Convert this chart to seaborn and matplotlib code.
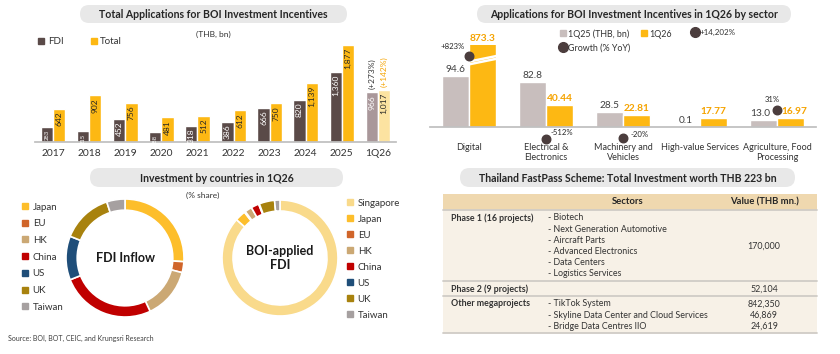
import numpy as np
import pandas as pd
import matplotlib
matplotlib.use("Agg")
import matplotlib.pyplot as plt
from matplotlib.patches import FancyBboxPatch, Rectangle
from matplotlib.lines import Line2D
import seaborn as sns

# ---------------- data ----------------
periods = ["2017", "2018", "2019", "2020", "2021", "2022", "2023", "2024", "2025", "1Q26"]
fdi = [283, 215, 452, 188, 318, 386, 666, 820, 1360, 966]
total = [642, 902, 756, 481, 512, 612, 750, 1139, 1877, 1017]
q26_growth = ["(+273%)", "(+142%)"]

sectors = ["Digital", "Electrical &\nElectronics", "Machinery and\nVehicles",
           "High-value Services", "Agriculture, Food\nProcessing"]
q125 = [94.6, 82.8, 28.5, 0.1, 13.0]
q126 = [873.3, 40.44, 22.81, 17.77, 16.97]
growth = [823, -512, -20, 14202, 31]
growth_labels = ["+823%", "-512%", "-20%", "+14,202%", "31%"]

countries = ["Japan", "EU", "HK", "China", "US", "UK", "Taiwan"]
fdi_share = [26, 3, 14, 26, 12, 14, 5]
boi_countries = ["Singapore"] + countries
boi_share = [86.5, 3.0, 0.3, 2.0, 2.2, 0.2, 4.3, 1.5]

table_header = ["Sectors", "Value (THB mn.)"]
phase1_label = "Phase 1 (16 projects)"
phase1_sectors = ["Biotech", "Next Generation Automotive", "Aircraft Parts",
                  "Advanced Electronics", "Data Centers", "Logistics Services"]
phase1_value = "170,000"
phase2_label = "Phase 2 (9 projects)"
phase2_value = "52,104"
mega_label = "Other megaprojects"
mega_items = ["TikTok System", "Skyline Data Center and Cloud Services", "Bridge Data Centres IIO"]
mega_values = ["842,350", "46,869", "24,619"]

# ---------------- style ----------------
DARK, YEL, LFDI, LTOT = "#5A4A48", "#FDB813", "#A9979A", "#FCE3A1"
GREY, ORG, DOT, TXT = "#C8BEBD", "#F5A300", "#4B3D3D", "#333333"
country_col = {"Singapore": "#F9DA8B", "Japan": "#FDBE2B", "EU": "#D0652A", "HK": "#CBA874",
               "China": "#C00000", "US": "#1F4E79", "UK": "#A8820E", "Taiwan": "#A6A0A0"}

sns.set_theme(style="white")
plt.rcParams["font.family"] = ["Lato", "DejaVu Sans"]

W, H = 840, 354
fig = plt.figure(figsize=(W / 100, H / 100), dpi=100)
fig.patch.set_facecolor("white")


def place(x0, y0, x1, y1):
    return fig.add_axes([x0 / W, 1 - y1 / H, (x1 - x0) / W, (y1 - y0) / H])


bg = fig.add_axes([0, 0, 1, 1])
bg.set_xlim(0, W); bg.set_ylim(H, 0); bg.axis("off")


def pill(x0, y0, x1, y1, text):
    bg.add_patch(FancyBboxPatch((x0, y0), x1 - x0, y1 - y0,
                                boxstyle=f"round,pad=0,rounding_size={(y1 - y0) / 2}",
                                fc="#E8E8E8", ec="none"))
    bg.text((x0 + x1) / 2, (y0 + y1) / 2 + 0.5, text, ha="center", va="center",
            fontsize=7.6, fontweight="bold", color="#262626")


pill(80, 5, 347, 23, "Total Applications for BOI Investment Incentives")
pill(477, 5, 791, 23, "Applications for BOI Investment Incentives in 1Q26 by sector")
pill(90, 168, 343, 187, "Investment by countries in 1Q26")
pill(460, 168, 795, 187, "Thailand FastPass Scheme: Total Investment worth THB 223 bn")
bg.text(213, 34, "(THB, bn)", ha="center", va="center", fontsize=6, color=TXT)
bg.text(203, 195, "(% share)", ha="center", va="center", fontsize=6, color=TXT)
bg.text(8, 338, "Source: BOI, BOT, CEIC, and Krungsri Research", ha="left", va="center",
        fontsize=5, color="#404040")

# ---------------- top-left: yearly applications ----------------
ax1 = place(35, 30, 396, 142)
df1 = pd.DataFrame({"period": periods * 2, "series": ["FDI"] * len(fdi) + ["Total"] * len(total),
                    "value": fdi + total})
sns.barplot(data=df1, x="period", y="value", hue="series", hue_order=["FDI", "Total"],
            order=periods, palette=[DARK, YEL], width=0.68, gap=0, saturation=1,
            legend=False, ax=ax1)
ax1.containers[0][-1].set_facecolor(LFDI)
ax1.containers[1][-1].set_facecolor(LTOT)
ax1.set_ylim(0, 2170)
ax1.set_xlim(-0.5, len(periods) - 0.5)
for cont, vals, col in zip(ax1.containers, [fdi, total], ["white", "#262626"]):
    for rect, v in zip(cont, vals):
        fs = 6 if v >= 300 else 4.2
        ax1.annotate(f"{v:,}", (rect.get_x() + rect.get_width() / 2, v), xytext=(0, -2),
                     textcoords="offset points", rotation=90, ha="center", va="top",
                     fontsize=fs, color=col)
for cont, lab, col in zip(ax1.containers, q26_growth, [TXT, ORG]):
    rect = cont[-1]
    ax1.annotate(lab, (rect.get_x() + rect.get_width() / 2, rect.get_height()), xytext=(0, 2),
                 textcoords="offset points", rotation=90, ha="center", va="bottom",
                 fontsize=6, color=col)
ax1.set_facecolor("none")
ax1.set_xlabel(""); ax1.set_ylabel(""); ax1.set_yticks([])
sns.despine(ax=ax1, left=True)
ax1.spines["bottom"].set_color("#BFBFBF")
ax1.tick_params(axis="x", length=0, pad=5, labelsize=7.4, labelcolor=TXT)
fig.legend([Line2D([], [], ls="", marker="s", color=DARK, markersize=4.5),
            Line2D([], [], ls="", marker="s", color=YEL, markersize=4.5)],
           ["FDI", "Total"], loc="upper left", bbox_to_anchor=(38 / W, 1 - 37 / H),
           ncol=2, frameon=False, fontsize=7, handlelength=0.7, handletextpad=0.3,
           columnspacing=2.8, borderpad=0, borderaxespad=0, labelcolor=TXT)

# ---------------- top-right: sectors ----------------
ax2 = place(430.5, 45, 815.5, 127.3)
df2 = pd.DataFrame({"sector": sectors * 2, "period": ["1Q25"] * 5 + ["1Q26"] * 5,
                    "value": q125 + q126})
sns.barplot(data=df2, x="sector", y="value", hue="period", hue_order=["1Q25", "1Q26"],
            order=sectors, palette=[GREY, YEL], width=0.714, gap=0, saturation=1,
            legend=False, ax=ax2)
top = 151
ax2.set_ylim(0, top)
ax2.set_xlim(-0.5, len(sectors) - 0.5)
# nudge value labels sideways where a growth dot sits between the two bars
nudge = {4: 2.5}
for rect, v, i in zip(ax2.containers[0], q125, range(len(q125))):
    ax2.annotate(f"{v:.1f}", (rect.get_x() + rect.get_width() / 2, v),
                 xytext=(-nudge.get(i, 0), 1.5), textcoords="offset points", ha="center",
                 va="bottom", fontsize=7.3, color="#404040", zorder=6)
for rect, v, i in zip(ax2.containers[1], q126, range(len(q126))):
    ax2.annotate(f"{v:g}", (rect.get_x() + rect.get_width() / 2, min(v, top)),
                 xytext=(nudge.get(i, 0), 1.5), textcoords="offset points", ha="center",
                 va="bottom", fontsize=7.3, color=ORG, fontweight="bold", zorder=6)
# axis-break marks on the off-scale bar
brk = ax2.containers[1][0]
bx = [brk.get_x(), brk.get_x() + brk.get_width()]
for y0 in (120.5, 115.5):
    ax2.plot(bx, [y0, y0 + 10.3], color="white", lw=1.8, zorder=4, solid_capstyle="butt")
# growth dots (on-chart ones), clipped to the visible band
on_chart = [i for i, g in enumerate(growth) if abs(g) < 1000]
gy = np.clip(np.array(growth, dtype=float), -21, 131)
ax2.scatter(on_chart, gy[on_chart], s=38, color=DOT, zorder=5, clip_on=False)
label_off = {0: (-11.5, 6.5), 1: (11.5, 4.5), 2: (12, 3), 4: (-3.5, 7.5)}
for i in on_chart:
    dx, dy = label_off[i]
    ax2.annotate(growth_labels[i], (i, gy[i]), xytext=(dx, dy), textcoords="offset points",
                 ha="center", va="center", fontsize=5.6, color="#262626", annotation_clip=False)
ax2.set_facecolor("none")
ax2.set_xlabel(""); ax2.set_ylabel(""); ax2.set_yticks([])
sns.despine(ax=ax2, left=True)
ax2.spines["bottom"].set_color("#BFBFBF")
ax2.set_xticks(range(len(sectors)))
ax2.set_xticklabels(sectors, linespacing=1.25)
ax2.tick_params(axis="x", length=0, pad=11, labelsize=6.5, labelcolor=TXT)
fig.legend([Line2D([], [], ls="", marker="s", color=GREY, markersize=4.5),
            Line2D([], [], ls="", marker="o", color=DOT, markersize=7),
            Line2D([], [], ls="", marker="s", color=YEL, markersize=4.5)],
           ["1Q25 (THB, bn)", "Growth (% YoY)", "1Q26"], loc="upper left",
           bbox_to_anchor=(559 / W, 1 - 29 / H), ncol=2, frameon=False, fontsize=6.4,
           handlelength=0.8, handletextpad=0.2, columnspacing=1.2, labelspacing=0.55,
           borderpad=0, borderaxespad=0, labelcolor=TXT)
off_chart = [i for i, g in enumerate(growth) if abs(g) >= 1000]
fig.legend([Line2D([], [], ls="", marker="o", color=DOT, markersize=7)] * len(off_chart),
           [growth_labels[i] for i in off_chart], loc="upper left",
           bbox_to_anchor=(692 / W, 1 - 29 / H), frameon=False, fontsize=5.8,
           handlelength=0.8, handletextpad=0.1, borderpad=0, borderaxespad=0, labelcolor=TXT)

# ---------------- donuts ----------------
def donut(ax, shares, names, label):
    ax.pie(shares, colors=[country_col[n] for n in names], startangle=90, counterclock=False,
           wedgeprops=dict(width=0.19, edgecolor="white", linewidth=1.2))
    ax.set_xlim(-1, 1); ax.set_ylim(-1, 1)
    ax.text(0, 0, label, ha="center", va="center", fontsize=9, fontweight="bold",
            color="#1A1A1A", linespacing=1.2)


ax3 = place(66, 199, 184, 317)
donut(ax3, fdi_share, countries, "FDI Inflow")
ax4 = place(222, 200, 338, 316)
donut(ax4, boi_share, boi_countries, "BOI-applied\nFDI")


def sq(n):
    return Line2D([], [], ls="", marker="s", color=country_col[n], markersize=4.5)


fig.legend([sq(n) for n in countries], countries, loc="upper left",
           bbox_to_anchor=(22 / W, 1 - 202.5 / H), frameon=False, fontsize=7,
           handlelength=0.7, handletextpad=0.4, labelspacing=0.79, borderpad=0,
           borderaxespad=0, labelcolor=TXT)
fig.legend([sq(n) for n in boi_countries], boi_countries, loc="upper left",
           bbox_to_anchor=(347 / W, 1 - 198.5 / H), frameon=False, fontsize=7,
           handlelength=0.7, handletextpad=0.4, labelspacing=0.72, borderpad=0,
           borderaxespad=0, labelcolor=TXT)

# ---------------- FastPass table ----------------
tx0, tx1 = 443, 817
bg.add_patch(Rectangle((tx0, 194), tx1 - tx0, 16, fc="#EFD8AF", ec="none"))
bg.add_patch(Rectangle((tx0, 210), tx1 - tx0, 123, fc="#F7F1E7", ec="none"))
for y in (210, 281, 296, 333):
    bg.plot([tx0, tx1], [y, y], color="#D0CCC6", lw=1.3)
col_label, col_items, col_value = 451, 548, 764
pitch = 11.2
hstyle = dict(va="center", fontsize=6.8, fontweight="bold", color="#262626")
bg.text(628, 202, table_header[0], ha="center", **hstyle)
bg.text(col_value, 202, table_header[1], ha="center", **hstyle)
tstyle = dict(va="center", fontsize=6.4, color="#333333")
bg.text(col_label, 218, phase1_label, ha="left", fontweight="bold", **tstyle)
for k, s in enumerate(phase1_sectors):
    bg.text(col_items, 218 + k * pitch, "- " + s, ha="left", **tstyle)
bg.text(col_value, 246, phase1_value, ha="center", **tstyle)
bg.text(col_label, 289, phase2_label, ha="left", fontweight="bold", **tstyle)
bg.text(col_value, 289, phase2_value, ha="center", **tstyle)
bg.text(col_label, 304, mega_label, ha="left", fontweight="bold", **tstyle)
for k, (s, v) in enumerate(zip(mega_items, mega_values)):
    bg.text(col_items, 304 + k * pitch, "- " + s, ha="left", **tstyle)
    bg.text(col_value, 304 + k * pitch, v, ha="center", **tstyle)

fig.savefig("out.png", dpi=100)
